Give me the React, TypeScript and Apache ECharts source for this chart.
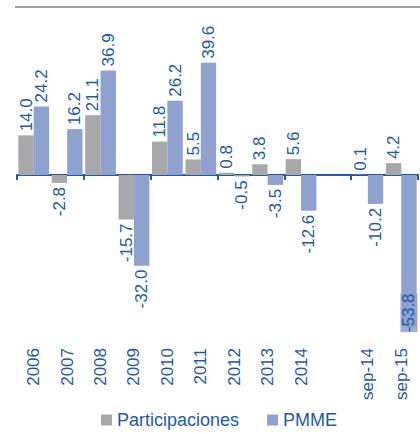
import React, { useEffect, useRef } from "react";
import * as echarts from "echarts";

const categories = ["2006", "2007", "2008", "2009", "2010", "2011", "2012", "2013", "2014", "", "sep-14", "sep-15"];
const participaciones: (number | null)[] = [14.0, -2.8, 21.1, -15.7, 11.8, 5.5, 0.8, 3.8, 5.6, null, 0.1, 4.2];
const pmme: (number | null)[] = [24.2, 16.2, 36.9, -32.0, 26.2, 39.6, -0.5, -3.5, -12.6, null, -10.2, -53.8];

const BLUE_TEXT = "#1E5AA8";
const GRAY = "#A8A8AA";
const LIGHT_BLUE = "#8FA1CF";
const FONT = "'Liberation Sans', Arial, sans-serif";

function toData(arr: (number | null)[]) {
  return arr.map((v) => {
    if (v === null) return { value: null };
    const pos = v >= 0;
    const label: any = {
      position: pos ? "top" : "bottom",
      align: pos ? "left" : "right",
      verticalAlign: "middle",
    };
    // label that would leave the plot is pulled back over the bar's end
    if (v < -50) {
      label.offset = [38, 0];
      label.backgroundColor = "rgba(143,161,207,0.85)";
    }
    return { value: v, label };
  });
}

export default function App() {
  const ref = useRef<HTMLDivElement>(null);
  useEffect(() => {
    if (!ref.current) return;
    const chart = echarts.init(ref.current, null, { renderer: "svg" });
    const labelCommon = {
      show: true,
      rotate: 90,
      distance: 4,
      color: BLUE_TEXT,
      fontSize: 17,
      fontFamily: FONT,
      formatter: (p: any) => (p.value === null || p.value === undefined ? "" : Number(p.value).toFixed(1)),
    };
    chart.setOption({
      animation: false,
      textStyle: { fontFamily: FONT },
      grid: { left: 17, right: 2, top: 5, height: 340 },
      legend: {
        left: 101,
        top: 411,
        padding: 0,
        itemWidth: 11,
        itemHeight: 11,
        itemGap: 28,
        icon: "rect",
        textStyle: { fontSize: 18, color: BLUE_TEXT, fontFamily: FONT },
        data: ["Participaciones", "PMME"],
      },
      xAxis: [
        {
          type: "category",
          data: categories,
          position: "bottom",
          axisLine: { show: true, onZero: true, lineStyle: { color: BLUE_TEXT, width: 2 } },
          axisTick: { show: true, length: 5, lineStyle: { color: BLUE_TEXT, width: 2 } },
          axisLabel: { show: false },
          splitLine: { show: false },
        },
        {
          type: "category",
          data: categories,
          position: "bottom",
          axisLine: { show: false, onZero: false },
          axisTick: { show: false },
          axisLabel: {
            show: true,
            rotate: 90,
            margin: 3,
            color: BLUE_TEXT,
            fontSize: 17,
            fontFamily: FONT,
            interval: 0,
          },
        },
      ],
      yAxis: {
        type: "value",
        min: -60,
        max: 60,
        show: false,
        splitLine: { show: false },
      },
      graphic: {
        elements: [
          {
            type: "rect",
            left: 15,
            top: 6,
            z: 100,
            shape: { width: 405, height: 2 },
            style: { fill: "#A0A0A0" },
          },
        ],
      },
      series: [
        {
          name: "Participaciones",
          type: "bar",
          xAxisIndex: 0,
          data: toData(participaciones),
          itemStyle: { color: GRAY },
          barGap: "0%",
          barCategoryGap: "8%",
          label: labelCommon,
        },
        {
          name: "PMME",
          type: "bar",
          xAxisIndex: 0,
          data: toData(pmme),
          itemStyle: { color: LIGHT_BLUE },
          barGap: "0%",
          barCategoryGap: "8%",
          label: labelCommon,
        },
      ],
    });
    return () => chart.dispose();
  }, []);
  return (
    <div ref={ref} style={{ position: "fixed", left: 0, top: 0, width: 420, height: 434, background: "#fff" }} />
  );
}
